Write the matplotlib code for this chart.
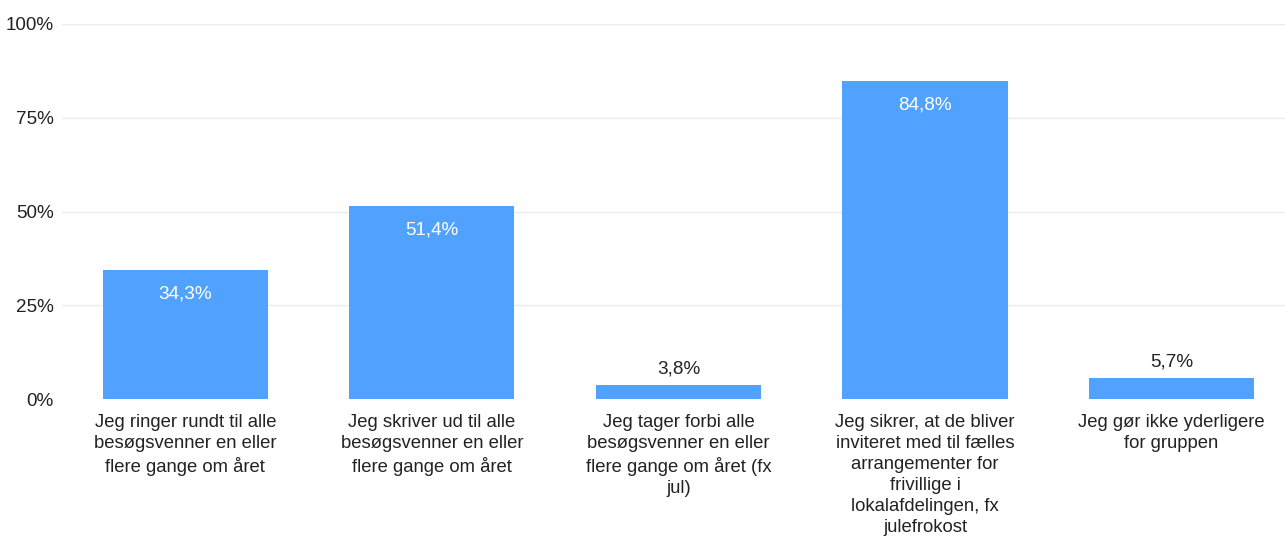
import matplotlib.pyplot as plt

categories = [
    "Jeg ringer rundt til alle\nbesøgsvenner en eller\nflere gange om året",
    "Jeg skriver ud til alle\nbesøgsvenner en eller\nflere gange om året",
    "Jeg tager forbi alle\nbesøgsvenner en eller\nflere gange om året (fx\njul)",
    "Jeg sikrer, at de bliver\ninviteret med til fælles\narrangementer for\nfrivillige i\nlokalafdelingen, fx\njulefrokost",
    "Jeg gør ikke yderligere\nfor gruppen",
]
values = [34.3, 51.4, 3.8, 84.8, 5.7]
yticks = [0, 25, 50, 75, 100]

plt.rcParams['font.family'] = ['Liberation Sans', 'DejaVu Sans']

fig = plt.figure(figsize=(12.85, 5.38), dpi=100)
ax = fig.add_axes([62 / 1285, 1 - 399 / 538, 1 - 62 / 1285, (399 - 24) / 538])

x = list(range(len(values)))
ax.bar(x, values, width=0.67, color='#51a2ff', zorder=2)

for xi, v in zip(x, values):
    label = f"{v:.1f}%".replace('.', ',')
    if v > 15:
        ax.annotate(label, (xi, v), xytext=(0, -11), textcoords='offset points',
                    ha='center', va='top', color='white', fontsize=13.6)
    else:
        ax.annotate(label, (xi, v), xytext=(0, 5), textcoords='offset points',
                    ha='center', va='bottom', color='#222222', fontsize=13.6)

ax.set_ylim(0, 100)
ax.set_xlim(-0.5, 4.46)
ax.set_yticks(yticks)
ax.set_yticklabels([f"{t}%" for t in yticks], fontsize=13.6, color='#222222')
ax.set_xticks(x)
ax.set_xticklabels(categories, fontsize=13.3, color='#222222', va='top', linespacing=1.3)
ax.tick_params(axis='both', length=0)
ax.tick_params(axis='y', pad=6)
ax.tick_params(axis='x', pad=11)
ax.grid(axis='y', color='#ebebeb', linewidth=1, zorder=0)
for s in ax.spines.values():
    s.set_visible(False)

fig.savefig('out.png', dpi=100)
